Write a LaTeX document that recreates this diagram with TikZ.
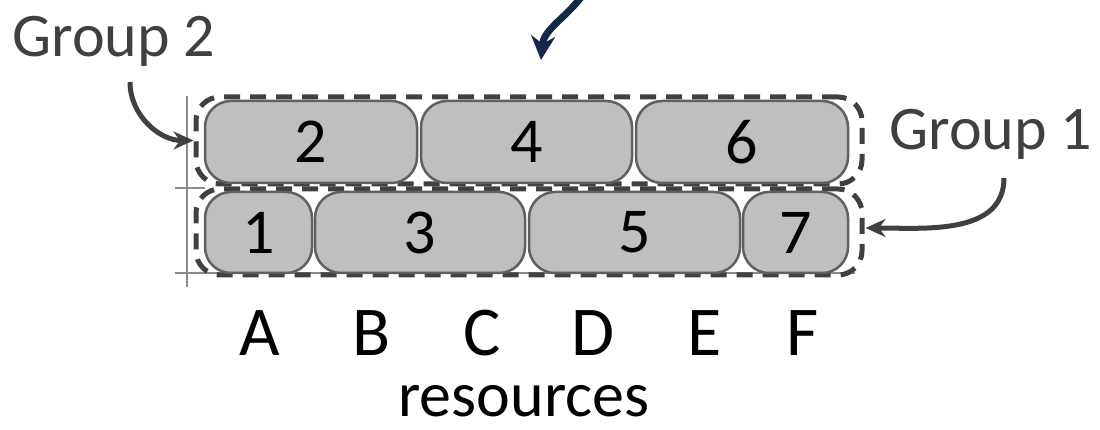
\documentclass[tikz,border=0pt]{standalone}
\usepackage{fontspec}
\setmainfont{Carlito}
\usetikzlibrary{arrows.meta}
\definecolor{boxfill}{HTML}{BFBFBF}
\definecolor{boxline}{HTML}{606060}
\definecolor{dgray}{HTML}{404040}
\definecolor{navy}{HTML}{15284B}
\definecolor{axisgray}{HTML}{8C8C8C}
\tikzset{
  task/.style={draw=boxline, fill=boxfill, line width=2.5pt, rounded corners=26pt,
    minimum height=82pt, inner sep=0pt, font=\fontsize{64}{66}\selectfont, text=black},
  grp/.style={draw=dgray, line width=5pt, dash pattern=on 16pt off 10pt, rounded corners=24pt,
    inner sep=0pt, minimum width=666pt},
  grplbl/.style={text=dgray, font=\fontsize{62}{64}\selectfont, inner sep=0pt},
  reslbl/.style={text=black, font=\fontsize{70}{72}\selectfont, inner sep=0pt},
  grparr/.style={draw=dgray, line width=5pt, -{Stealth[length=20pt,width=18pt]}},
  topar/.style={draw=navy, line width=7pt, -{Stealth[length=24pt,width=24pt]}},
  axis/.style={draw=axisgray, line width=1.5pt}
}
\begin{document}
\begin{tikzpicture}[x=1pt,y=-1pt]
\useasboundingbox (0,0) rectangle (1100,430);
% axes
\draw[axis] (187,96) -- (187,287);
\draw[axis] (175,188) -- (205,188);
\draw[axis] (175,273) -- (855,273);
% groups
\node[grp, minimum height=87pt] (g2) at (529,140.5) {};
\node[grp, minimum height=86pt] (g1) at (529,232) {};
% tasks top row
\node[task, minimum width=212pt] (t2) at (311,142) {2};
\node[task, minimum width=211pt] (t4) at (526.5,142) {4};
\node[task, minimum width=212pt] (t6) at (742,142) {6};
% tasks bottom row
\node[task, minimum width=107pt, minimum height=81pt] (t1) at (258.5,232.5) {1};
\node[task, minimum width=210pt, minimum height=81pt] (t3) at (420,232.5) {3};
\node[task, minimum width=211pt, minimum height=81pt] (t5) at (634.5,232.5) {5};
\node[task, minimum width=105pt, minimum height=81pt] (t7) at (795.5,232.5) {7};
% labels
\node[grplbl] (g2lbl) at (114,41) {Group 2};
\node[grplbl] (g1lbl) at (991,134) {Group 1};
\node[reslbl] (rA) at (260,333) {A};
\node[reslbl] (rB) at (372,333) {B};
\node[reslbl] (rC) at (482,333) {C};
\node[reslbl] (rD) at (593,333) {D};
\node[reslbl] (rE) at (705,333) {E};
\node[reslbl] (rF) at (803,333) {F};
\node[reslbl, font=\fontsize{64}{66}\selectfont] (res) at (524,401) {resources};
% arrows
\draw[grparr] (130,82) to[out=-90,in=180] (g2.west);
\draw[grparr] (1004,178) to[out=-90,in=0] ([xshift=1pt,yshift=4pt]g1.east);
\coordinate (topstart) at (585,-8);
\coordinate (topend) at (541,60);
\draw[topar] (topstart) to[out=-125,in=85] (topend);
\end{tikzpicture}
\end{document}
